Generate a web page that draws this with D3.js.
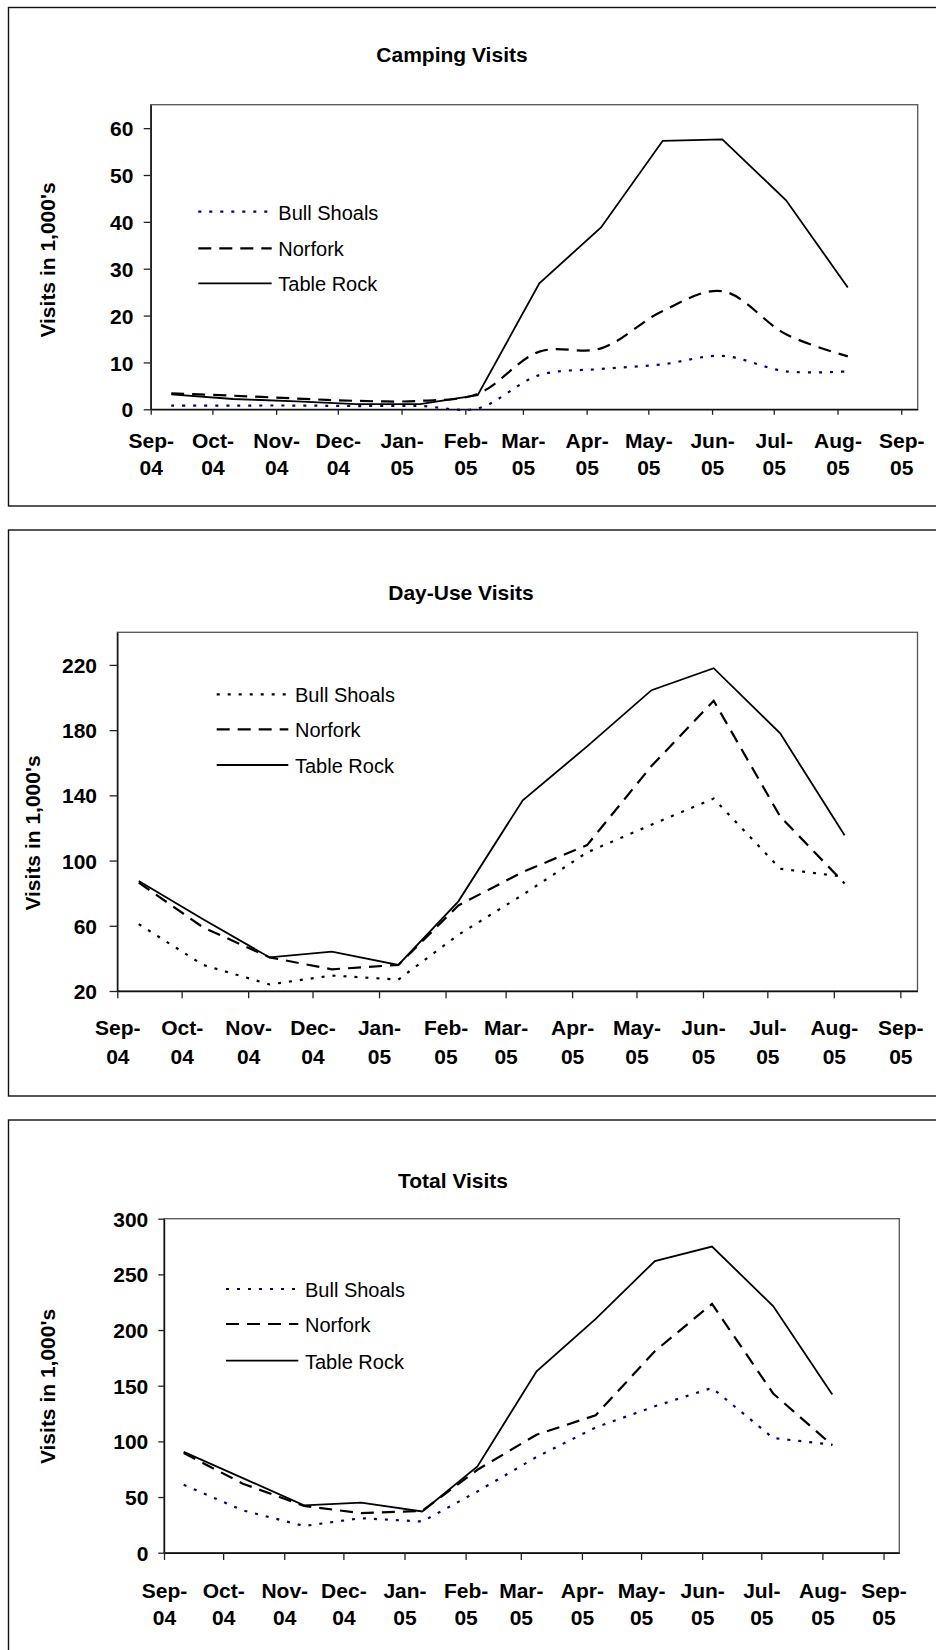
<!DOCTYPE html>
<html>
<head>
<meta charset="utf-8">
<script src="https://cdn.jsdelivr.net/npm/d3@7"></script>
<style>
	body { margin: 0; background: #fff; }
	svg { display: block; }
	text { font-family: "Liberation Sans", Arial, sans-serif; fill: #000; }
</style>
</head>
<body>
<svg id="page" width="936" height="1650"></svg>
<script>
// dates of the monthly readings (about 30 days apart)
var pointDates = ["2004-09-11", "2004-10-11", "2004-11-11", "2004-12-10", "2005-01-10", "2005-02-07",
	"2005-03-09", "2005-04-08", "2005-05-08", "2005-06-06", "2005-07-07", "2005-08-06"];
// x axis month labels
var tickLabels = ["Sep-04", "Oct-04", "Nov-04", "Dec-04", "Jan-05", "Feb-05", "Mar-05",
	"Apr-05", "May-05", "Jun-05", "Jul-05", "Aug-05", "Sep-05"];
var seriesNames = ["Bull Shoals", "Norfork", "Table Rock"];

// Camping visits, 1,000's
var campBull    = [0.8, 0.8, 0.8, 0.7, 0.7, 0.2, 7.3, 8.6, 9.6, 11.4, 8.1, 8.1];
var campNorfork = [3.4, 2.9, 2.3, 1.8, 1.8, 3.3, 12.3, 13.0, 21.0, 25.2, 16.0, 11.3];
var campTable   = [3.2, 2.2, 1.7, 1.1, 1.1, 3.0, 26.9, 38.8, 57.3, 57.6, 44.6, 26.0];
var campTicks   = [0, 10, 20, 30, 40, 50, 60];

// Day-use visits, 1,000's
var dayBull    = [61, 36, 24, 29.5, 27, 54.5, 79, 105, 122, 138, 95, 90];
var dayNorfork = [86.5, 59, 40.6, 33.3, 36, 72.5, 93, 109.5, 158, 198, 127, 86];
var dayTable   = [87.5, 64, 40.6, 44.1, 36, 75, 137, 170, 204.5, 218, 178, 115.5];
var dayTicks   = [20, 60, 100, 140, 180, 220];

// Total visits, 1,000's
var totBull    = [61, 38, 24, 31, 28, 55, 86, 112.5, 131.5, 148, 103, 97];
var totNorfork = [89.5, 62, 42, 35.5, 37.5, 74.5, 106, 123.5, 181, 223.5, 143, 96.5];
var totTable   = [90.5, 67, 42.5, 45, 37, 77.5, 163, 210, 262, 275, 221.5, 142];
var totTicks   = [0, 50, 100, 150, 200, 250, 300];

var parseDay = d3.timeParse("%Y-%m-%d");
var dates = pointDates.map(parseDay);
var tickDates = d3.timeMonth.range(new Date(2004, 8, 1), new Date(2005, 8, 2));

// layout of the three panels (pixel positions only)
var charts = [{
	title: "Camping Visits", series: [campBull, campNorfork, campTable], yTicks: campTicks, yDomain: [0, 65],
	smooth: [true, true, false], bullColor: "#000080",
	frame: [7.5, 506], titleX: 452, titleY: 62,
	plot: { l: 150.7, r: 917.7, t: 104.7, b: 409.3 }, yTick: 7, yPad: 10.4, xTick: 5.5, xLab: [38.4, 65.7],
	yLabel: [55, 260], legend: { x1: 198.3, x2: 271.7, tx: 278.3, ys: [211.7, 248.3, 283.3] }
}, {
	title: "Day-Use Visits", series: [dayBull, dayNorfork, dayTable], yTicks: dayTicks, yDomain: [20, 240],
	smooth: [false, false, false], bullColor: "#000",
	frame: [530, 1096], titleX: 461, titleY: 600,
	plot: { l: 117.3, r: 917.5, t: 632.3, b: 991 }, yTick: 7.7, yPad: 12.6, xTick: 7.3, xLab: [44, 73.3],
	yLabel: [40, 833], legend: { x1: 216.7, x2: 288.3, tx: 295, ys: [694.3, 729.3, 765] }
}, {
	title: "Total Visits", series: [totBull, totNorfork, totTable], yTicks: totTicks, yDomain: [0, 300],
	smooth: [false, false, false], bullColor: "#000080",
	frame: [1120, 1700], titleX: 453, titleY: 1188.4,
	plot: { l: 164, r: 899.3, t: 1218.7, b: 1552.7 }, yTick: 5.7, yPad: 10, xTick: 7.3, xLab: [45, 72.6],
	yLabel: [54.5, 1386.5], legend: { x1: 226, x2: 298.3, tx: 305, ys: [1289, 1324, 1360.7] }
}];

// line styles: dotted / dashed / solid
var dashes = ["3,8", "13,8", null];
var widths = [2.2, 2.2, 1.8];

var svg = d3.select("#page");

charts.forEach(function(cfg) {
	drawChart(svg.append("g"), cfg);
});

function drawChart(g, cfg) {
	var p = cfg.plot;
	var x = d3.scaleTime().domain([new Date(2004, 8, 1), new Date(2005, 8, 9)]).range([p.l, p.r]);
	var y = d3.scaleLinear().domain(cfg.yDomain).range([p.b, p.t]);

	// outer frame (right side runs off the page)
	g.append("rect")
		.attr("x", 8.5).attr("y", cfg.frame[0])
		.attr("width", 940).attr("height", cfg.frame[1] - cfg.frame[0])
		.style("fill", "none").style("stroke", "#111").style("stroke-width", 1.4);

	g.append("text")
		.attr("x", cfg.titleX).attr("y", cfg.titleY)
		.attr("text-anchor", "middle")
		.style("font-size", "21px").style("font-weight", "bold")
		.text(cfg.title);

	// plot area border
	g.append("rect")
		.attr("x", p.l).attr("y", p.t)
		.attr("width", p.r - p.l).attr("height", p.b - p.t)
		.style("fill", "#fff").style("stroke", "#555").style("stroke-width", 1.3);

	// y axis
	var yAxis = g.append("g")
		.attr("transform", "translate(" + p.l + ",0)")
		.call(d3.axisLeft(y).tickValues(cfg.yTicks).tickSize(cfg.yTick).tickSizeOuter(0).tickPadding(cfg.yPad));
	yAxis.selectAll("text").style("font-size", "21px").style("font-weight", "bold").attr("dy", "0.36em");

	// x axis, two-line month labels
	var xAxis = g.append("g")
		.attr("transform", "translate(0," + p.b + ")")
		.call(d3.axisBottom(x).tickValues(tickDates).tickSize(cfg.xTick).tickSizeOuter(0)
			.tickFormat(function(d, i) { return tickLabels[i]; }));
	xAxis.selectAll("text").each(function() {
		var t = d3.select(this);
		var parts = t.text().split("-");
		t.text(null).attr("y", null).attr("dy", null)
			.style("font-size", "21px").style("font-weight", "bold");
		t.append("tspan").attr("x", 0).attr("y", cfg.xLab[0]).text(parts[0] + "-");
		t.append("tspan").attr("x", 0).attr("y", cfg.xLab[1]).text(parts[1]);
	});
	g.selectAll(".domain").style("stroke", "#111").style("stroke-width", 1.4);
	g.selectAll(".tick line").style("stroke", "#222").style("stroke-width", 1.3);

	// y axis title
	g.append("text")
		.attr("transform", "translate(" + cfg.yLabel[0] + "," + cfg.yLabel[1] + ") rotate(-90)")
		.attr("text-anchor", "middle")
		.style("font-size", "21px").style("font-weight", "bold")
		.text("Visits in 1,000's");

	// data lines
	cfg.series.forEach(function(vals, s) {
		var line = d3.line()
			.x(function(d, i) { return x(dates[i]); })
			.y(function(d) { return y(d); })
			.curve(cfg.smooth[s] ? d3.curveCatmullRom.alpha(0.5) : d3.curveLinear);
		g.append("path")
			.datum(vals)
			.attr("d", line)
			.style("fill", "none")
			.style("stroke", s === 0 ? cfg.bullColor : "#000")
			.style("stroke-width", widths[s])
			.style("stroke-dasharray", dashes[s]);
	});

	// legend
	var lg = cfg.legend;
	seriesNames.forEach(function(name, s) {
		g.append("line")
			.attr("x1", lg.x1).attr("x2", lg.x2)
			.attr("y1", lg.ys[s]).attr("y2", lg.ys[s])
			.style("stroke", s === 0 ? cfg.bullColor : "#000")
			.style("stroke-width", widths[s])
			.style("stroke-dasharray", dashes[s]);
		g.append("text")
			.attr("x", lg.tx).attr("y", lg.ys[s] + 8)
			.style("font-size", "20px")
			.text(name);
	});
}
</script>
</body>
</html>
